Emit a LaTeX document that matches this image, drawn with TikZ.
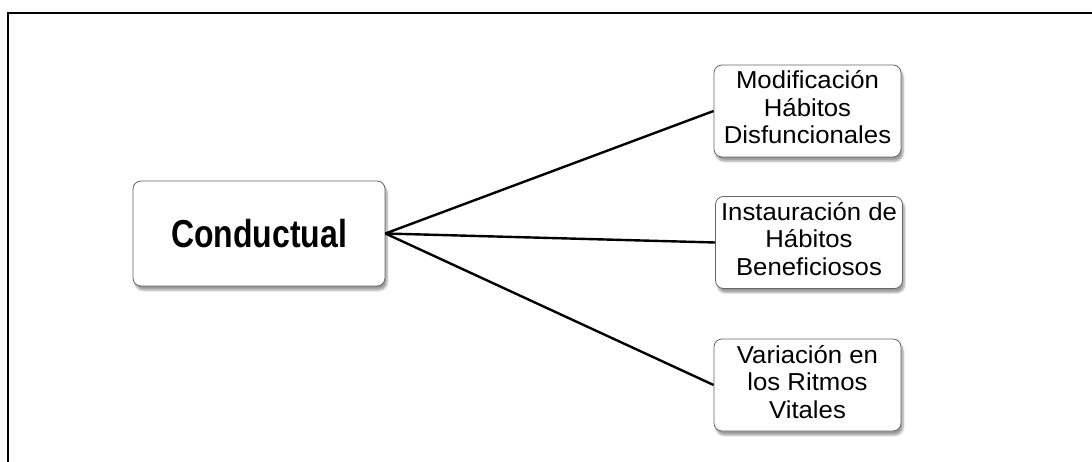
\documentclass[tikz,border=0pt]{standalone}
\usepackage{fontspec}
\setmainfont{Liberation Sans}
\usetikzlibrary{shadows.blur}
\begin{document}
\begin{tikzpicture}[x=1pt,y=-1pt,
  box/.style={draw=black!60, line width=0.8pt, fill=white, rounded corners=8pt,
    blur shadow={shadow xshift=2pt, shadow yshift=-4pt, shadow blur steps=6, shadow opacity=40},
    inner sep=0pt, align=center},
  leaf/.style={box, minimum width=187pt, minimum height=92pt},
  link/.style={line width=2.4pt, black},
  frame/.style={line width=2pt, black}]
\useasboundingbox (0,0) rectangle (1092,462);
% open frame: top and left edges
\draw[frame] (8,462) -- (8,13) -- (1092,13);

% central node
\node[box, minimum width=252pt, minimum height=105pt] (hub) at (259,233.5)
  {\scalebox{0.82}[1]{\fontsize{39}{44}\selectfont\bfseries Conductual}};

% three branches
\newcommand{\leaftext}[1]{\scalebox{1.05}[1]{\fontsize{24.5}{27.5}\selectfont\begin{tabular}{@{}c@{}}#1\end{tabular}}}
\node[leaf] (m) at (807.5,111) {\leaftext{Modificación\\Hábitos\\Disfuncionales}};
\node[leaf] (i) at (809,242.5) {\leaftext{Instauración de\\Hábitos\\Beneficiosos}};
\node[leaf] (v) at (807.5,385) {\leaftext{Variación en\\los Ritmos\\Vitales}};

\draw[link] (hub.east) -- (m.west);
\draw[link] (hub.east) -- (i.west);
\draw[link] (hub.east) -- (v.west);
\end{tikzpicture}
\end{document}
